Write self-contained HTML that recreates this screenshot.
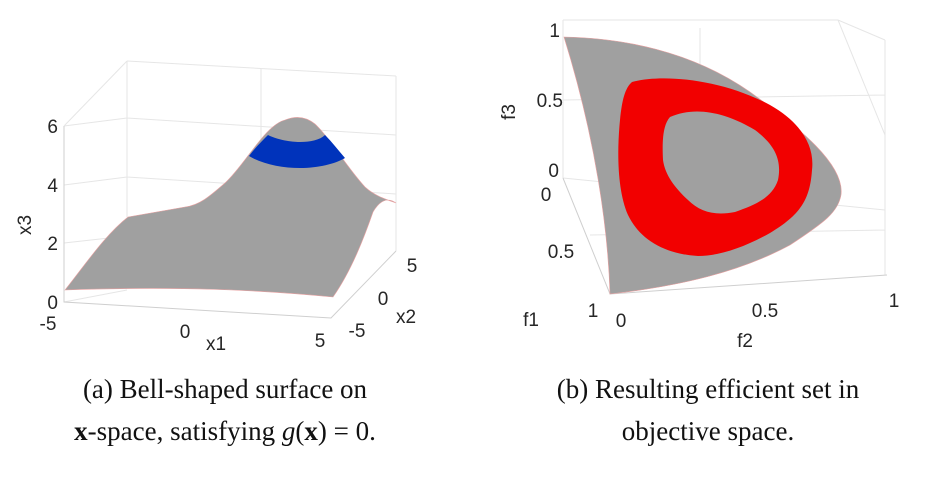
<!DOCTYPE html>
<html><head><meta charset="utf-8"><style>
body{margin:0;background:#fff;width:948px;height:472px;overflow:hidden}
svg text{font-family:"Liberation Sans",sans-serif;fill:#262626}
.cap{font-family:"Liberation Serif",serif;font-size:27px;fill:#111}
.g{stroke:#e6e6e6;stroke-width:1;fill:none}
.ax{stroke:#cfcfcf;stroke-width:1;fill:none}
</style></head><body>
<svg width="948" height="472">
<g>
 <path class="g" d="M127,61 L396,76 M127,61 L127,217 M261,68 L261,200 M396,76 L396,251 M64,126 L127,118 L396,135 M64,185 L127,177 L396,194 M64,243 L127,236 M64,126 L127,61 M64,302 L127,290"/>
 <path class="ax" d="M64,126 L64,302 L331,318 L396,251"/>
 <path fill="#a0a0a0" stroke="#e8a0a0" stroke-width="0.6" d="M65,290 C85,265 105,235 128,217 L185,207 C200,205 210,196 225,183 C245,165 265,125 285,120 C295,116 305,116 315,124 C330,138 345,165 365,187 C375,196 385,199 396,203 C388,197 380,200 373,212 C365,235 352,270 333,297 C260,290 180,286 65,290 Z"/>
 <path fill="#0033bb" d="M268,135 C280,141 295,142 300,142 C310,142 320,140 325,135 C332,142 338,150 345,158 C335,164 318,168 300,168 C282,168 262,164 249,156 C255,148 262,141 268,135 Z"/>
 <g font-size="19" text-anchor="end">
  <text x="58" y="133">6</text><text x="58" y="192">4</text><text x="58" y="250">2</text><text x="58" y="309">0</text>
 </g>
 <text font-size="19" transform="translate(31,225) rotate(-90)" text-anchor="middle">x3</text>
 <g font-size="19" text-anchor="middle">
  <text x="48" y="330">-5</text><text x="185" y="338">0</text><text x="320" y="347">5</text>
 </g>
 <text font-size="19" x="216" y="350" text-anchor="middle">x1</text>
 <g font-size="19" text-anchor="middle">
  <text x="412" y="272">5</text><text x="383" y="305">0</text><text x="357" y="337">-5</text>
 </g>
 <text font-size="19" x="406" y="323" text-anchor="middle">x2</text>
</g>
<g>
 <path class="g" d="M563,20 L838,20 L885,40 M563,20 L563,178 M700,28 L700,180 M838,20 L885,135 M885,40 L885,275 M563,100 L885,95 M563,178 L885,210 M590,235 L885,230"/>
 <path class="ax" d="M563,178 L610,294 L887,275"/>
 <path fill="#a0a0a0" stroke="#e8a0a0" stroke-width="0.6" d="M564,37 C620,38 690,50 750,92 C800,128 845,165 841,195 C838,212 825,222 790,245 C740,272 680,286 610,294 C608,230 596,140 564,37 Z"/>
 <path fill-rule="evenodd" fill="#f20000" d="M632,82 C660,74 720,78 770,105 C800,122 815,145 812,170 C810,200 800,215 770,233 C745,247 720,256 698,256 C665,254 640,240 628,215 C617,190 617,150 620,120 C622,100 625,88 632,82 Z M670,117 C695,106 725,112 755,130 C775,145 782,160 778,180 C772,198 755,205 735,212 C715,216 700,212 688,200 C675,188 665,175 663,160 C662,140 663,125 670,117 Z"/>
 <g font-size="19" text-anchor="end">
  <text x="560" y="37">1</text><text x="563" y="107">0.5</text><text x="559" y="177">0</text>
 </g>
 <text font-size="19" transform="translate(515,112) rotate(-90)" text-anchor="middle">f3</text>
 <g font-size="19" text-anchor="middle">
  <text x="546" y="201">0</text><text x="561" y="258">0.5</text><text x="593" y="317">1</text>
 </g>
 <text font-size="19" x="531" y="326" text-anchor="middle">f1</text>
 <g font-size="19" text-anchor="middle">
  <text x="621" y="327">0</text><text x="765" y="317">0.5</text><text x="894" y="307">1</text>
 </g>
 <text font-size="19" x="745" y="347" text-anchor="middle">f2</text>
</g>
<g>
 <text class="cap" x="225" y="398" text-anchor="middle">(a) Bell-shaped surface on</text>
 <text class="cap" x="225" y="440" text-anchor="middle"><tspan font-weight="bold">x</tspan>-space, satisfying <tspan font-style="italic">g</tspan>(<tspan font-weight="bold">x</tspan>) = 0.</text>
</g>
<g>
 <text class="cap" x="708" y="398" text-anchor="middle">(b) Resulting efficient set in</text>
 <text class="cap" x="708" y="440" text-anchor="middle">objective space.</text>
</g>
</svg>
</body></html>
